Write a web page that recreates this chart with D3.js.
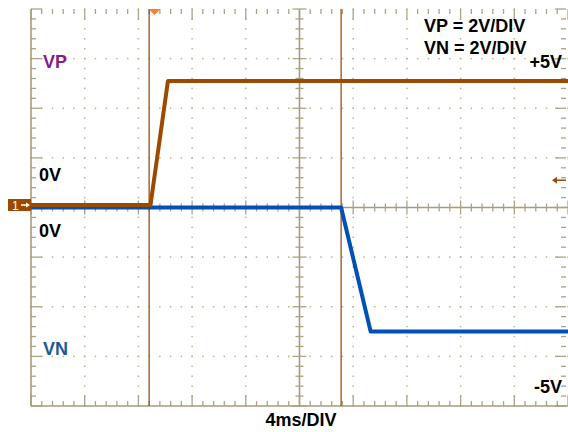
<!DOCTYPE html>
<html lang="en">
<head>
<meta charset="UTF-8"/>
<title>VP / VN power-up scope capture</title>
<script src="https://d3js.org/d3.v7.min.js"></script>
<style>
  body { margin: 0; background: #fff; }
  svg { display: block; }
  text { font-family: 'Liberation Sans', Arial, sans-serif; font-weight: bold; font-size: 18px; }
  .dot { fill: #b9b295; }
  .tick { stroke: #aaa384; stroke-width: 1.3; }
  .frame { stroke: #a49d7c; stroke-width: 1.6; }
  .cursor { stroke: #9a4e12; stroke-width: 1.3; }
  .vp { fill: none; stroke: #9c4a00; stroke-width: 4; stroke-linejoin: round; }
  .vn { fill: none; stroke: #0050b8; stroke-width: 4; stroke-linejoin: round; }
  .lbl-vp { fill: #8b1a8b; }
  .lbl-vn { fill: #1b5a94; }
</style>
</head>
<body>
<svg width="568" height="432"></svg>
<script>
// time in ms (4 ms/div, 10 div), volts (2 V/div, 8 div)
const vpTimes = [0, 8.9, 10.2, 40];
const vpVolts = [0, 0, 5, 5];
const vnTimes = [0, 23.1, 25.3, 40];
const vnVolts = [0, 0, -5, -5];
const cursorTimes = [8.8, 23.1];
const triggerTime = 9.2;
const vpOffsetDiv = 0.05;   // ch1 ground marker sits a hair above centre

const svg = d3.select('svg');
const pLeft = 31, pRight = 568, pTop = 9, pBottom = 406;

const x = d3.scaleLinear().domain([0, 40]).range([pLeft, pRight]);
const xd = d3.scaleLinear().domain([0, 10]).range([pLeft, pRight]);
const yd = d3.scaleLinear().domain([-4, 4]).range([pBottom, pTop]);
const vpY = v => yd(v / 2 + vpOffsetDiv);
const vnY = v => yd(v / 2);

const grid = svg.append('g');

// dotted graticule
const minorX = d3.range(0, 51).map(i => i / 5);
const minorY = d3.range(-20, 21).map(i => i / 5);
[1, 2, 3, 4, 6, 7, 8, 9].forEach(d => {
  grid.selectAll(null).data(minorY).enter().append('rect')
    .attr('class', 'dot')
    .attr('x', xd(d) - 0.75).attr('y', v => yd(v) - 0.75)
    .attr('width', 1.5).attr('height', 1.5);
});
[-3, -2, -1, 1, 2, 3].forEach(d => {
  grid.selectAll(null).data(minorX).enter().append('rect')
    .attr('class', 'dot')
    .attr('x', v => xd(v) - 0.75).attr('y', yd(d) - 0.75)
    .attr('width', 1.5).attr('height', 1.5);
});

// centre crosshair
grid.append('line').attr('class', 'frame')
  .attr('x1', pLeft).attr('x2', pRight).attr('y1', yd(0)).attr('y2', yd(0));
grid.append('line').attr('class', 'frame')
  .attr('x1', xd(5)).attr('x2', xd(5)).attr('y1', pTop).attr('y2', pBottom);

const isMajor = v => Math.abs(v - Math.round(v)) < 1e-6;
grid.selectAll(null).data(minorX).enter().append('line').attr('class', 'tick')
  .attr('x1', v => xd(v)).attr('x2', v => xd(v))
  .attr('y1', v => yd(0) - (isMajor(v) ? 7 : 4))
  .attr('y2', v => yd(0) + (isMajor(v) ? 7 : 4));
grid.selectAll(null).data(minorY).enter().append('line').attr('class', 'tick')
  .attr('y1', v => yd(v)).attr('y2', v => yd(v))
  .attr('x1', v => xd(5) - (isMajor(v) ? 7 : 4))
  .attr('x2', v => xd(5) + (isMajor(v) ? 7 : 4));

// border ticks
grid.selectAll(null).data(minorY).enter().append('line').attr('class', 'tick')
  .attr('y1', v => yd(v)).attr('y2', v => yd(v))
  .attr('x1', pLeft).attr('x2', v => pLeft + (isMajor(v) ? 11 : 5));
grid.selectAll(null).data(minorY).enter().append('line').attr('class', 'tick')
  .attr('y1', v => yd(v)).attr('y2', v => yd(v))
  .attr('x1', pRight - 2).attr('x2', v => pRight - 2 - (isMajor(v) ? 11 : 5));
grid.selectAll(null).data(minorX).enter().append('line').attr('class', 'tick')
  .attr('x1', v => xd(v)).attr('x2', v => xd(v))
  .attr('y1', pBottom).attr('y2', v => pBottom - (isMajor(v) ? 11 : 5));
grid.selectAll(null).data(minorX).enter().append('line').attr('class', 'tick')
  .attr('x1', v => xd(v)).attr('x2', v => xd(v))
  .attr('y1', pTop).attr('y2', v => pTop + (isMajor(v) ? 11 : 5));

grid.append('line').attr('class', 'frame')
  .attr('x1', pLeft).attr('x2', pLeft).attr('y1', pTop).attr('y2', pBottom);
grid.append('line').attr('class', 'frame')
  .attr('x1', pLeft).attr('x2', pRight).attr('y1', pBottom).attr('y2', pBottom);

// cursors
svg.selectAll('.cursor').data(cursorTimes).enter().append('line')
  .attr('class', 'cursor')
  .attr('x1', d => x(d)).attr('x2', d => x(d))
  .attr('y1', pTop).attr('y2', pBottom);

// traces
const vnLine = d3.line().x(d => x(d[0])).y(d => vnY(d[1]));
const vpLine = d3.line().x(d => x(d[0])).y(d => vpY(d[1]));
svg.append('path').attr('class', 'vn').attr('d', vnLine(d3.zip(vnTimes, vnVolts)));
svg.append('path').attr('class', 'vp').attr('d', vpLine(d3.zip(vpTimes, vpVolts)));

// trigger position marker
const tx = x(triggerTime);
svg.append('path').attr('fill', '#ff7a3a')
  .attr('d', `M${tx - 6},${pTop} L${tx + 6},${pTop} L${tx},${pTop + 6} Z`);

// channel 1 ground marker
const gy = vpY(0);
svg.append('rect').attr('x', 8).attr('y', gy - 6).attr('width', 23).attr('height', 12)
  .attr('fill', '#9c4a00');
svg.append('text').attr('x', 12).attr('y', gy + 4.5)
  .style('font-size', '12px').style('font-weight', 'normal').attr('fill', '#fff').text('1');
svg.append('line').attr('x1', 21).attr('x2', 27).attr('y1', gy).attr('y2', gy)
  .attr('stroke', '#fff').attr('stroke-width', 1.5);
svg.append('path').attr('fill', '#fff')
  .attr('d', `M26,${gy - 2.5} L30,${gy} L26,${gy + 2.5} Z`);

// trigger level arrow on the right
const ly = vpY(1);
svg.append('line').attr('x1', 556).attr('x2', 566).attr('y1', ly).attr('y2', ly)
  .attr('stroke', '#9c4a00').attr('stroke-width', 1.5);
svg.append('path').attr('fill', '#9c4a00')
  .attr('d', `M552,${ly} L557,${ly - 3.5} L557,${ly + 3.5} Z`);

// labels
svg.append('text').attr('class', 'lbl-vp').attr('x', 43).attr('y', 68).text('VP');
svg.append('text').attr('class', 'lbl-vn').attr('x', 43).attr('y', 355).text('VN');
svg.append('text').attr('x', 424).attr('y', 32).text('VP = 2V/DIV');
svg.append('text').attr('x', 424).attr('y', 54).text('VN = 2V/DIV');
svg.append('text').attr('x', 562).attr('y', 68).attr('text-anchor', 'end').text('+5V');
svg.append('text').attr('x', 562).attr('y', 393).attr('text-anchor', 'end').text('-5V');
svg.append('text').attr('x', 39).attr('y', 181).text('0V');
svg.append('text').attr('x', 39).attr('y', 237).text('0V');
svg.append('text').attr('x', 301).attr('y', 426).attr('text-anchor', 'middle').text('4ms/DIV');
</script>
</body>
</html>
